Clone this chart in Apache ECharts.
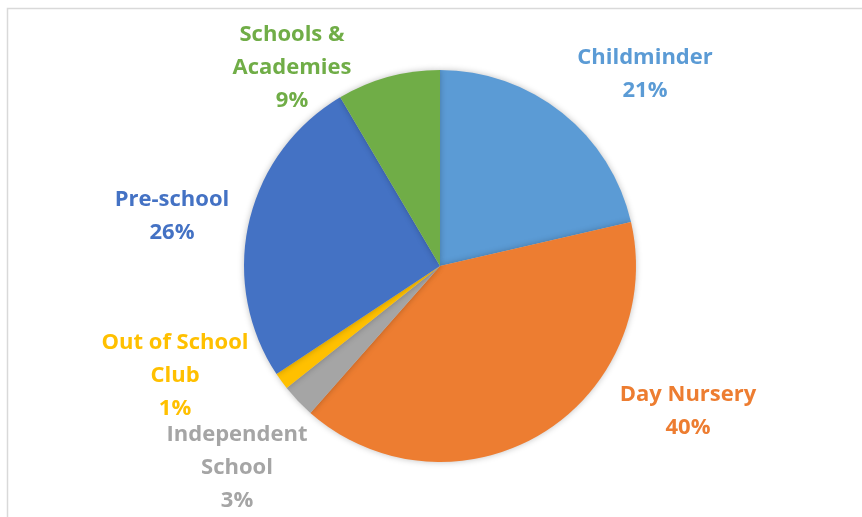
<!DOCTYPE html>
<html>
<head>
<meta charset="utf-8">
<script src="https://cdn.jsdelivr.net/npm/echarts@6/dist/echarts.min.js"></script>
<style>
  html, body { margin: 0; padding: 0; background: #fff; }
  #chart { width: 862px; height: 517px; }
</style>
</head>
<body>
<div id="chart"></div>
<script>
// categories, clockwise from 12 o'clock
const categories = ['Childminder', 'Day Nursery', 'Independent\nSchool', 'Out of School\nClub', 'Pre-school', 'Schools &\nAcademies'];
const shares = [21.4, 40.1, 2.8, 1.4, 25.8, 8.5];
const colours = ['#5B9BD5', '#ED7D31', '#A5A5A5', '#FFC000', '#4472C4', '#70AD47'];

// where each label block sits (centre), like the Excel best-fit placement
const labelSpots = [[645, 74], [688, 411], [237, 468], [175, 376], [172, 216], [292, 68]];

let chart = echarts.init(document.getElementById('chart'));

let option = {
  animation: false,
  graphic: [{
    type: 'rect',
    shape: { x: 7.5, y: 8.5, width: 900, height: 600 },
    style: { fill: 'none', stroke: '#d9d9d9', lineWidth: 1.5 },
    silent: true
  }],
  series: [{
    type: 'pie',
    center: [440, 266],
    radius: 196,
    startAngle: 90,
    clockwise: true,
    percentPrecision: 0,
    itemStyle: {
      shadowBlur: 6,
      shadowColor: 'rgba(0,0,0,0.25)'
    },
    label: {
      show: true,
      position: 'outside',
      formatter: '{b}\n{d}%',
      fontFamily: 'Open Sans',
      fontWeight: 'bold',
      fontSize: 22,
      lineHeight: 33,
      color: 'inherit'
    },
    labelLine: { show: false },
    labelLayout: function (params) {
      let p = labelSpots[params.dataIndex];
      return { x: p[0], y: p[1], align: 'center', verticalAlign: 'middle' };
    },
    data: categories.map((name, i) => ({
      name: name,
      value: shares[i],
      itemStyle: { color: colours[i] },
      label: { color: colours[i] }
    }))
  }]
};

chart.setOption(option);
</script>
</body>
</html>
